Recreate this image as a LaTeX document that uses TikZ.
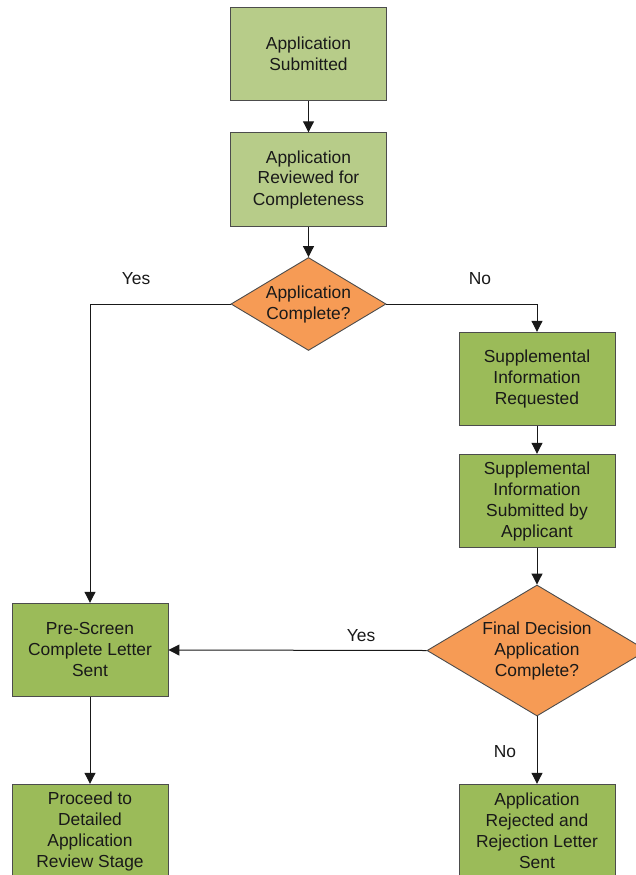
\documentclass[tikz,border=0pt]{standalone}
\usepackage{fontspec}
\setmainfont{Liberation Sans}
\usetikzlibrary{shapes.geometric,arrows.meta}
\definecolor{lightg}{HTML}{B7CC89}
\definecolor{darkg}{HTML}{9BBB59}
\definecolor{orng}{HTML}{F69B55}
\begin{document}
\begin{tikzpicture}[x=1pt,y=-1pt,
  every node/.style={font=\fontsize{17.4}{21}\selectfont, text=black!90},
  box/.style={rectangle, draw=black!70, line width=0.9pt, minimum width=156pt, minimum height=93.5pt, inner sep=0pt, align=center},
  lbox/.style={box, fill=lightg},
  gbox/.style={box, fill=darkg},
  dia/.style={diamond, draw=black!70, line width=0.9pt, fill=orng, inner sep=0pt},
  txt/.style={align=center, inner sep=0pt},
  conn/.style={draw=black!90, line width=1pt, -{Triangle[length=11pt,width=11pt]}}
]
\useasboundingbox (0,0) rectangle (636,875);
\clip (0,0) rectangle (636,875);
\fill[white] (0,0) rectangle (636,875);

\node[lbox] (b1) at (308.5,54) {Application\\Submitted};
\node[lbox] (b2) at (308.5,179.5) {Application\\Reviewed for\\Completeness};
\node[dia, minimum width=155pt, minimum height=93pt] (d1) at (308.5,304) {};
\node[txt] at (d1.center) {Application\\Complete?};
\node[gbox] (s1) at (537,379) {Supplemental\\Information\\Requested};
\node[gbox] (s2) at (537,501) {Supplemental\\Information\\Submitted by\\Applicant};
\node[dia, minimum width=220pt, minimum height=131pt] (d2) at (537,650.5) {};
\node[txt] at (d2.center) {Final Decision\\Application\\Complete?};
\node[gbox] (p1) at (90,650) {Pre-Screen\\Complete Letter\\Sent};
\node[gbox] (p2) at (90,831) {Proceed to\\Detailed\\Application\\Review Stage};
\node[gbox] (r1) at (537,831) {Application\\Rejected and\\Rejection Letter\\Sent};

\draw[conn] (b1.south) -- (b2.north);
\draw[conn] (b2.south) -- (d1.north);
\draw[conn] (d1.west) -| (p1.north);
\draw[conn] (d1.east) -| (s1.north);
\draw[conn] (s1.south) -- (s2.north);
\draw[conn] (s2.south) -- (d2.north);
\draw[conn] (d2.west) -- (p1.east);
\draw[conn] (p1.south) -- (p2.north);
\draw[conn] (d2.south) -- (r1.north);

\node[txt] (ly1) at (136,279) {Yes};
\node[txt] (ln1) at (480,279) {No};
\node[txt] (ly2) at (361,636) {Yes};
\node[txt] (ln2) at (505,752) {No};
\end{tikzpicture}
\end{document}
